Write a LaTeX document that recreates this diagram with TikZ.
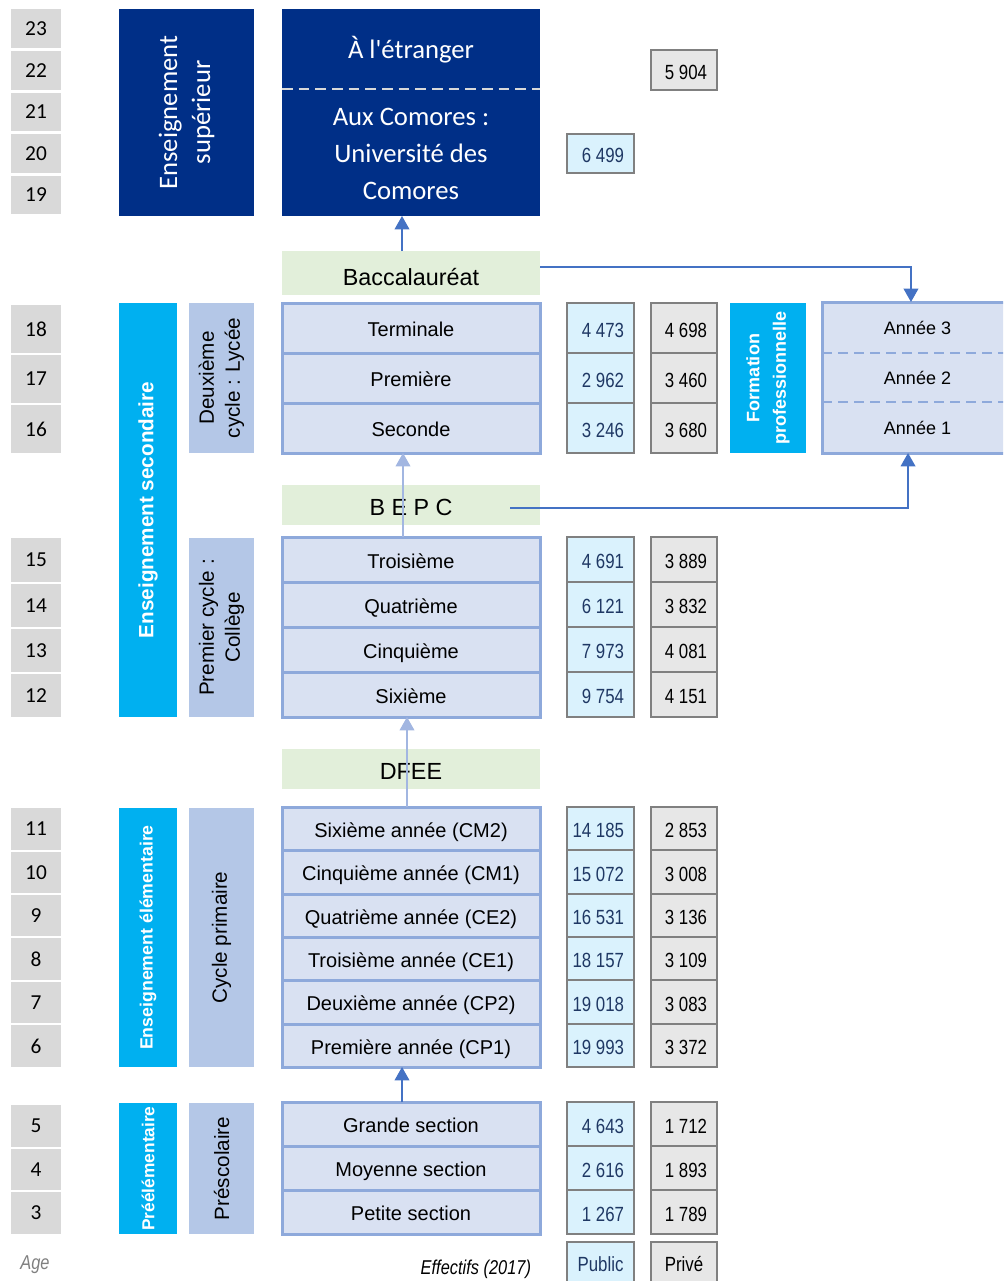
\documentclass[tikz,border=0pt]{standalone}
\usepackage{fontspec}
\setmainfont{Liberation Sans}
\newfontfamily\calfont{Carlito}
\newfontfamily\narrowfont[FakeStretch=0.82]{Liberation Sans}
\usetikzlibrary{arrows.meta}
\definecolor{dkblue}{HTML}{002F87}
\definecolor{cyanb}{HTML}{00B0F0}
\definecolor{lav}{HTML}{D9E1F2}
\definecolor{lavb}{HTML}{8EA9DB}
\definecolor{cyc}{HTML}{B4C7E7}
\definecolor{grn}{HTML}{E2EFDA}
\definecolor{agegray}{HTML}{D9D9D9}
\definecolor{pubf}{HTML}{DAF2FD}
\definecolor{privf}{HTML}{E7E7E7}
\definecolor{numb}{HTML}{808080}
\definecolor{navy}{HTML}{1F3864}
\definecolor{arrdk}{HTML}{4472C4}
\definecolor{arrlt}{HTML}{A2B6E1}
\definecolor{dashgray}{HTML}{D9D9D9}
\tikzset{
  every node/.style={inner sep=0pt,outer sep=0pt},
  agebox/.style={fill=agegray,font=\calfont\fontsize{16}{19}\selectfont},
  lavbox/.style={fill=lav,draw=lavb,line width=2.25pt,font=\fontsize{15}{18}\selectfont,text height=13.3pt,text depth=0pt},
  grnbox/.style={fill=grn,font=\fontsize{17.5}{21}\selectfont,text height=15.5pt,text depth=0pt},
  dkbox/.style={fill=dkblue},
  cybox/.style={fill=cyanb},
  cycbox/.style={fill=cyc},
  pubbox/.style={fill=pubf,draw=numb,line width=1.5pt},
  privbox/.style={fill=privf,draw=numb,line width=1.5pt},
  numtxt/.style={font=\narrowfont\fontsize{15.4}{18}\selectfont},
  rotw/.style={rotate=90,align=center,text=white},
  rotk/.style={rotate=90,align=center,text=black,font=\fontsize{15.5}{19.5}\selectfont},
  calw/.style={text=white,font=\calfont\fontsize{20}{24}\selectfont},
  arrD/.style={draw=arrdk,line width=1.2pt,-{Triangle[width=11pt,length=10pt,fill=arrdk]}},
  arrL/.style={draw=arrlt,line width=1.2pt,-{Triangle[width=11pt,length=10pt,fill=arrlt]}},
}
\newcommand\bx[7]{\node[#2,minimum width={(#5-#3)*0.75pt},minimum height={(#6-#4)*0.75pt}] (#1) at ({(#3+#5)/2},{(#4+#6)/2}) {#7};}
\newcommand\pubn[4]{\bx{#1}{pubbox}{567}{#2}{634}{#3}{}\node[numtxt,text=navy,anchor=east] (#1t) at ([xshift=-7.5pt,yshift=-1.5pt]#1.east) {#4};}
\newcommand\privn[4]{\bx{#1}{privbox}{651}{#2}{717}{#3}{}\node[numtxt,text=black,anchor=east] (#1t) at ([xshift=-7.5pt,yshift=-1.5pt]#1.east) {#4};}
\begin{document}
\begin{tikzpicture}[x=0.75pt,y=-0.75pt]
\useasboundingbox (0,0) rectangle (1003,1281);
\clip (0,0) rectangle (1003,1281);
% ---- ages
\bx{a23}{agebox}{11}{9}{61}{48}{23}
\bx{a22}{agebox}{11}{51}{61}{90}{22}
\bx{a21}{agebox}{11}{93}{61}{131}{21}
\bx{a20}{agebox}{11}{134}{61}{173}{20}
\bx{a19}{agebox}{11}{176}{61}{214}{19}
\bx{a18}{agebox}{11}{305}{61}{353}{18}
\bx{a17}{agebox}{11}{355}{61}{403}{17}
\bx{a16}{agebox}{11}{405}{61}{453}{16}
\bx{a15}{agebox}{11}{538}{61}{582}{15}
\bx{a14}{agebox}{11}{584}{61}{627}{14}
\bx{a13}{agebox}{11}{629}{61}{672}{13}
\bx{a12}{agebox}{11}{674}{61}{717}{12}
\bx{a11}{agebox}{11}{808}{61}{850}{11}
\bx{a10}{agebox}{11}{852}{61}{893}{10}
\bx{a9}{agebox}{11}{895}{61}{936}{9}
\bx{a8}{agebox}{11}{938}{61}{980}{8}
\bx{a7}{agebox}{11}{982}{61}{1023}{7}
\bx{a6}{agebox}{11}{1025}{61}{1067}{6}
\bx{a5}{agebox}{11}{1105}{61}{1147}{5}
\bx{a4}{agebox}{11}{1149}{61}{1190}{4}
\bx{a3}{agebox}{11}{1192}{61}{1234}{3}
% ---- supérieur
\bx{sup}{dkbox}{119}{9}{254}{216}{}
\node[rotw,font=\calfont\fontsize{20}{24.75}\selectfont] (supt) at (sup.center) {Enseignement\\supérieur};
\bx{etr}{dkbox}{282}{9}{540}{89}{}
\bx{com}{dkbox}{282}{89}{540}{216}{}
\node[calw] (etrt) at ([yshift=-0.75pt]etr.center) {À l'étranger};
\node[calw,align=center,font=\calfont\fontsize{20}{27.75}\selectfont] (comt) at ([yshift=-1pt]com.center) {Aux Comores :\\Université des\\Comores};
\draw[dashgray,line width=2.2pt,dash pattern=on 8pt off 4.5pt] (etr.south west) -- (etr.south east);
\privn{p5904}{50}{90}{5 904}
\pubn{p6499}{134}{173}{6 499}
% ---- Baccalauréat
\bx{bacc}{grnbox,text height=18pt}{282}{251}{540}{295}{Baccalauréat}
% ---- secondaire
\bx{sec}{cybox}{119}{303}{177}{717}{}
\node[rotw,font=\bfseries\fontsize{15.5}{18}\selectfont] (sect) at (sec.center) {Enseignement secondaire};
\bx{lyc}{cycbox}{189}{303}{254}{453}{}
\node[rotk] (lyct) at (lyc.center) {Deuxième\\cycle : Lycée};
\bx{term}{lavbox}{282}{303}{540}{353}{Terminale}
\bx{prem}{lavbox}{282}{353}{540}{403}{Première}
\bx{seco}{lavbox}{282}{403}{540}{453}{Seconde}
\pubn{pu18}{303}{353}{4 473}
\pubn{pu17}{353}{403}{2 962}
\pubn{pu16}{403}{453}{3 246}
\privn{pr18}{303}{353}{4 698}
\privn{pr17}{353}{403}{3 460}
\privn{pr16}{403}{453}{3 680}
% formation professionnelle
\bx{fp}{cybox}{730}{303}{806}{453}{}
\node[rotw,font=\bfseries\fontsize{13.5}{20}\selectfont] (fpt) at (fp.center) {Formation\\professionnelle};
\bx{an3}{fill=lav,font=\fontsize{13.5}{16}\selectfont}{822}{302}{1013}{353}{Année 3}
\bx{an2}{fill=lav,font=\fontsize{13.5}{16}\selectfont}{822}{353}{1013}{402}{Année 2}
\bx{an1}{fill=lav,font=\fontsize{13.5}{16}\selectfont}{822}{402}{1013}{453}{Année 1}
\draw[lavb,line width=1.9pt,dash pattern=on 7.5pt off 4.5pt] (an3.south west) -- (an3.south east);
\draw[lavb,line width=1.9pt,dash pattern=on 7.5pt off 4.5pt] (an2.south west) -- (an2.south east);
\draw[lavb,line width=2.25pt] (an3.north west) rectangle (an1.south east);
% ---- BEPC
\bx{bepc}{grnbox}{282}{485}{540}{525}{B E P C}
% collège
\bx{col}{cycbox}{189}{538}{254}{717}{}
\node[rotk] (colt) at (col.center) {Premier cycle :\\Collège};
\bx{troi}{lavbox}{282}{537}{540}{582}{Troisième}
\bx{quat}{lavbox}{282}{582}{540}{627}{Quatrième}
\bx{cinq}{lavbox}{282}{627}{540}{672}{Cinquième}
\bx{sixi}{lavbox}{282}{672}{540}{717}{Sixième}
\pubn{pu15}{537}{582}{4 691}
\pubn{pu14}{582}{627}{6 121}
\pubn{pu13}{627}{672}{7 973}
\pubn{pu12}{672}{717}{9 754}
\privn{pr15}{537}{582}{3 889}
\privn{pr14}{582}{627}{3 832}
\privn{pr13}{627}{672}{4 081}
\privn{pr12}{672}{717}{4 151}
% ---- DFEE
\bx{dfee}{grnbox}{282}{749}{540}{789}{DFEE}
% ---- élémentaire
\bx{ele}{cybox}{119}{808}{177}{1067}{}
\node[rotw,font=\bfseries\fontsize{13.3}{16}\selectfont] (elet) at (ele.center) {Enseignement élémentaire};
\bx{cp}{cycbox}{189}{808}{254}{1067}{}
\node[rotk] (cpt) at (cp.center) {Cycle primaire};
\bx{cm2}{lavbox}{282}{807}{540}{850}{Sixième année (CM2)}
\bx{cm1}{lavbox}{282}{850}{540}{894}{Cinquième année (CM1)}
\bx{ce2}{lavbox}{282}{894}{540}{937}{Quatrième année (CE2)}
\bx{ce1}{lavbox}{282}{937}{540}{980}{Troisième année (CE1)}
\bx{cp2}{lavbox}{282}{980}{540}{1024}{Deuxième année (CP2)}
\bx{cp1}{lavbox}{282}{1024}{540}{1067}{Première année (CP1)}
\pubn{pu11}{807}{850}{14 185}
\pubn{pu10}{850}{894}{15 072}
\pubn{pu9}{894}{937}{16 531}
\pubn{pu8}{937}{980}{18 157}
\pubn{pu7}{980}{1024}{19 018}
\pubn{pu6}{1024}{1067}{19 993}
\privn{pr11}{807}{850}{2 853}
\privn{pr10}{850}{894}{3 008}
\privn{pr9}{894}{937}{3 136}
\privn{pr8}{937}{980}{3 109}
\privn{pr7}{980}{1024}{3 083}
\privn{pr6}{1024}{1067}{3 372}
% ---- préélémentaire
\bx{pre}{cybox}{119}{1103}{177}{1234}{}
\node[rotw,font=\bfseries\fontsize{13}{16}\selectfont] (pret) at (pre.center) {Préélémentaire};
\bx{psc}{cycbox}{189}{1103}{254}{1234}{}
\node[rotk] (psct) at (psc.center) {Préscolaire};
\bx{gs}{lavbox}{282}{1102}{540}{1146}{Grande section}
\bx{ms}{lavbox}{282}{1146}{540}{1190}{Moyenne section}
\bx{ps}{lavbox}{282}{1190}{540}{1234}{Petite section}
\pubn{pu5}{1102}{1146}{4 643}
\pubn{pu4}{1146}{1190}{2 616}
\pubn{pu3}{1190}{1234}{1 267}
\privn{pr5}{1102}{1146}{1 712}
\privn{pr4}{1146}{1190}{1 893}
\privn{pr3}{1190}{1234}{1 789}
% ---- legend
\node[font=\narrowfont\itshape\fontsize{15}{18}\selectfont,text=numb] (age) at (35,1265) {Age};
\node[font=\narrowfont\itshape\fontsize{15}{18}\selectfont,anchor=east] (eff) at (531,1269) {Effectifs (2017)};
\bx{lpub}{pubbox}{567}{1242}{634}{1284}{}
\node[numtxt,text=navy] (lpubt) at ([yshift=-1pt]lpub.center) {Public};
\bx{lpriv}{privbox}{651}{1242}{717}{1284}{}
\node[numtxt] (lprivt) at ([yshift=-1pt]lpriv.center) {Privé};
% ---- connectors
\draw[arrD] ([xshift=-6.75pt]bacc.north) -- ([xshift=-6.75pt]com.south);
\draw[arrD] ([yshift=4.5pt]bacc.east) -| ([xshift=-4.9pt]an3.north);
\draw[arrD] ([xshift=-22.5pt,yshift=-2.25pt]bepc.east) -| ([xshift=-7.1pt]an1.south);
\draw[arrL] ([xshift=-6pt]troi.north) -- ([xshift=-6pt]seco.south);
\draw[arrL] ([xshift=-3pt]cm2.north) -- ([xshift=-3pt]sixi.south);
\draw[arrD] ([xshift=-6.75pt]gs.north) -- ([xshift=-6.75pt]cp1.south);
\end{tikzpicture}
\end{document}
